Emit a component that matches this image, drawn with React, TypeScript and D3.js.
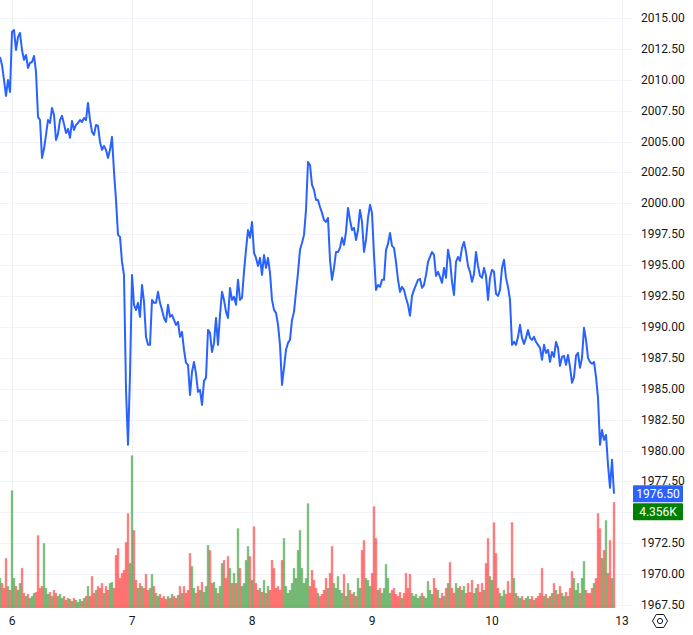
import React from "react";
import * as d3 from "d3";

// Close prices (one per bar)
const prices: number[] = [
  2011.85, 2011.2, 2009.99, 2008.69, 2009.99, 2009.02, 2013.87, 2014.03, 2012.41, 2013.47,
  2013.79, 2012.41, 2011.61, 2012.01, 2010.96, 2011.36, 2011.44, 2011.93, 2010.64, 2007.0,
  2006.75, 2003.68, 2004.41, 2005.54, 2006.75, 2006.51, 2007.72, 2007.16, 2005.13, 2005.62,
  2006.75, 2007.08, 2006.43, 2005.7, 2006.02, 2005.3, 2006.67, 2005.94, 2006.35, 2006.51,
  2006.75, 2006.59, 2006.91, 2006.75, 2008.13, 2006.75, 2005.78, 2005.54, 2006.35, 2006.27,
  2004.97, 2004.33, 2004.65, 2004.33, 2003.68, 2004.33, 2005.38, 2002.55, 2000.28, 1997.45,
  1997.29, 1995.26, 1994.21, 1984.91, 1980.46, 1986.12, 1994.21, 1991.79, 1991.38, 1991.95,
  1990.82, 1993.4, 1992.03, 1989.2, 1988.55, 1988.55, 1992.19, 1991.95, 1991.95, 1992.84,
  1991.95, 1991.38, 1990.73, 1990.41, 1991.79, 1990.82, 1990.98, 1990.57, 1990.17, 1990.41,
  1989.2, 1989.6, 1988.15, 1987.09, 1986.93, 1984.5, 1986.37, 1987.17, 1986.2, 1984.75,
  1984.91, 1983.7, 1985.64, 1985.88, 1989.76, 1989.52, 1987.98, 1988.71, 1990.73, 1988.55,
  1990.98, 1992.84, 1992.19, 1991.22, 1990.73, 1993.16, 1992.19, 1992.43, 1991.79, 1993.81,
  1992.19, 1992.35, 1994.46, 1996.24, 1997.85, 1997.21, 1998.5, 1995.99, 1995.59, 1994.94,
  1995.59, 1994.21, 1995.83, 1994.78, 1995.59, 1994.37, 1992.19, 1991.38, 1991.14, 1990.17,
  1988.55, 1985.31, 1986.69, 1988.15, 1988.71, 1988.95, 1990.57, 1991.22, 1992.84, 1994.37,
  1996.24, 1996.8, 1997.45, 1999.47, 2003.35, 2003.11, 2001.49, 2001.09, 2000.28, 2000.28,
  1999.71, 1999.23, 1998.66, 1998.5, 1998.82, 1995.43, 1993.81, 1994.78, 1996.07, 1996.07,
  1996.4, 1997.21, 1996.64, 1997.69, 1999.63, 1998.66, 1997.85, 1998.02, 1997.04, 1997.85,
  1999.47, 1998.5, 1996.07, 1997.04, 1998.82, 1999.88, 1999.23, 1995.83, 1993.0, 1993.4,
  1993.24, 1993.81, 1993.81, 1996.24, 1996.72, 1997.61, 1996.56, 1996.4, 1995.26, 1993.81,
  1992.84, 1993.24, 1993.0, 1992.35, 1991.79, 1990.9, 1992.51, 1993.0, 1993.4, 1993.81,
  1993.89, 1993.16, 1993.4, 1994.21, 1995.26, 1995.67, 1996.07, 1995.83, 1994.13, 1994.46,
  1994.05, 1993.57, 1994.78, 1993.97, 1996.24, 1995.43, 1993.65, 1992.59, 1995.26, 1995.67,
  1995.35, 1996.4, 1996.88, 1996.07, 1994.94, 1994.46, 1993.65, 1994.29, 1996.07, 1994.94,
  1994.13, 1993.97, 1994.78, 1994.13, 1992.19, 1993.97, 1994.62, 1994.46, 1992.68, 1992.51,
  1993.0, 1994.78, 1995.43, 1993.97, 1993.24, 1992.19, 1988.55, 1988.79, 1988.55, 1989.2,
  1990.17, 1989.12, 1988.63, 1989.12, 1989.76, 1989.12, 1988.95, 1989.2, 1988.79, 1988.55,
  1988.31, 1987.34, 1988.55, 1987.9, 1988.15, 1987.17, 1987.98, 1987.58, 1988.79, 1988.31,
  1986.85, 1987.58, 1987.66, 1986.93, 1987.74, 1986.77, 1985.48, 1985.96, 1987.66, 1987.9,
  1986.69, 1987.5, 1989.93, 1988.95, 1987.5, 1987.17, 1987.01, 1987.17, 1985.96, 1984.26,
  1980.46, 1981.67, 1980.86, 1981.27, 1978.84, 1976.98, 1979.25, 1976.5,
];

// Volume per bar
const volumes: number[] = [
  1230, 1025, 820, 2050, 900, 740, 4840, 1230, 900, 740,
  1025, 1640, 615, 490, 575, 410, 490, 615, 655, 2990,
  820, 900, 2665, 820, 575, 655, 490, 740, 615, 490,
  575, 410, 490, 330, 410, 370, 285, 410, 330, 245,
  370, 285, 410, 490, 900, 490, 1310, 615, 740, 900,
  820, 1025, 615, 900, 740, 1025, 1065, 820, 2175, 2460,
  1230, 1435, 1560, 2705, 3895, 1845, 6275, 3200, 1150, 820,
  1025, 900, 820, 1395, 740, 820, 1395, 900, 615, 490,
  575, 410, 490, 370, 490, 410, 575, 490, 410, 535,
  900, 615, 900, 615, 740, 2255, 1720, 820, 615, 900,
  740, 1065, 655, 900, 2585, 2380, 1025, 1065, 820, 615,
  900, 1845, 1970, 1230, 2130, 1640, 1025, 1435, 1025, 3280,
  1640, 900, 1025, 1970, 2540, 2130, 1150, 3360, 1025, 740,
  820, 655, 1150, 615, 900, 740, 1970, 1640, 820, 900,
  740, 1970, 2870, 900, 615, 740, 1025, 1640, 1230, 2380,
  3200, 1640, 1025, 1230, 4305, 900, 1560, 1150, 820, 615,
  490, 575, 740, 1230, 820, 1435, 2540, 1025, 820, 1310,
  740, 615, 1395, 490, 1025, 740, 575, 655, 490, 1230,
  820, 2380, 2790, 1230, 1150, 900, 1435, 4180, 2870, 740,
  820, 615, 820, 1805, 1230, 615, 740, 820, 575, 490,
  655, 410, 615, 1435, 820, 1395, 615, 490, 575, 410,
  490, 615, 490, 410, 1105, 740, 575, 1230, 820, 740,
  410, 615, 490, 820, 1025, 1885, 820, 615, 1025, 820,
  900, 740, 900, 615, 1025, 655, 1150, 615, 820, 985,
  655, 1025, 740, 1845, 2870, 1310, 1150, 3525, 2255, 820,
  615, 490, 740, 575, 1105, 615, 3525, 1230, 615, 490,
  410, 490, 330, 410, 490, 370, 490, 330, 410, 490,
  615, 1640, 490, 575, 410, 490, 615, 1025, 740, 575,
  900, 615, 490, 655, 490, 820, 1515, 1230, 740, 1025,
  615, 1230, 1925, 740, 615, 615, 820, 1025, 1230, 3895,
  3280, 2050, 2380, 3610, 1435, 2790, 1230, 4356,
];

// Day labels on the time axis and the bar index where each day starts
const dayLabels: string[] = ["6", "7", "8", "9", "10", "13"];
const dayIndex: number[] = [6, 66, 126, 186, 246, 311];

// Price axis ticks (grid lines) and the labels shown (1975.00 is hidden by the volume label)
const priceTicks: number[] = d3.range(1967.5, 2015.01, 2.5);
const hiddenPriceLabels: number[] = [1975];

const W = 693;
const H = 635;
const PLOT_R = 633;
const PLOT_B = 610;
const FONT = "Roboto, 'Liberation Sans', Arial, sans-serif";

export default function App() {
  const n = prices.length;
  const x = d3.scaleLinear().domain([0, n - 1]).range([0, (n - 1) * 2]);
  const y = d3.scaleLinear().domain([1967.5, 2015]).range([605, 18]);
  const yv = d3.scaleLinear().domain([0, 6500]).range([608, 450]);

  const line = d3
    .line<number>()
    .x((_, i) => x(i))
    .y((d) => y(d));

  const lastPrice = prices[n - 1];
  const lastVol = volumes[volumes.length - 1];
  const fmtVol = (v: number) => (v / 1000).toFixed(3) + "K";

  const barW = 2.4;

  // settings hexagon
  const cx = 660, cy = 621, r = 7.5;
  const hex = d3.range(6).map((k) => {
    const a = (Math.PI / 3) * k;
    return [cx + r * Math.cos(a), cy + r * Math.sin(a)] as [number, number];
  });
  const hexPath = d3.line().curve(d3.curveLinearClosed)(hex) || "";

  const labelTicks = priceTicks.filter((t) => !hiddenPriceLabels.some((h) => Math.abs(h - t) < 1e-6));

  return (
    <svg
      width={W}
      height={H}
      style={{ position: "absolute", left: 0, top: 0, display: "block", background: "#ffffff" }}
      fontFamily={FONT}
    >
      <defs>
        <clipPath id="plot">
          <rect x={0} y={0} width={PLOT_R} height={PLOT_B} />
        </clipPath>
      </defs>
      <rect x={0} y={0} width={W} height={H} fill="#ffffff" />

      {/* grid */}
      <g stroke="#f0f3fa" strokeWidth={1}>
        {priceTicks.map((t) => (
          <line key={"h" + t} x1={0} x2={PLOT_R} y1={Math.round(y(t)) + 0.5} y2={Math.round(y(t)) + 0.5} />
        ))}
        {dayIndex.map((di, k) => (
          <line key={"v" + k} x1={Math.round(x(di)) + 0.5} x2={Math.round(x(di)) + 0.5} y1={0} y2={PLOT_B} />
        ))}
      </g>

      <g clipPath="url(#plot)">
        {/* volume */}
        {volumes.map((v, i) => {
          const up = i === 0 ? true : prices[i] >= prices[i - 1];
          return (
            <rect
              key={"vb" + i}
              x={x(i) - barW / 2}
              y={yv(v)}
              width={barW}
              height={yv(0) - yv(v)}
              fill={up ? "rgba(0,128,0,0.5)" : "rgba(255,0,0,0.5)"}
            />
          );
        })}
        {/* price line */}
        <path d={line(prices) || ""} fill="none" stroke="#2962ff" strokeWidth={2} strokeLinejoin="round" />
      </g>

      {/* price axis labels */}
      <g fontSize={12} fill="#131722">
        {labelTicks.map((t) => (
          <text key={"pt" + t} x={641} y={y(t)} dominantBaseline="central">
            {t.toFixed(2)}
          </text>
        ))}
      </g>

      {/* last value labels */}
      <rect x={633} y={y(lastPrice) - 8.5} width={50} height={17} fill="#2962ff" rx={1} />
      <text x={658} y={y(lastPrice)} fontSize={12} fill="#ffffff" textAnchor="middle" dominantBaseline="central">
        {lastPrice.toFixed(2)}
      </text>
      <rect x={633} y={y(lastPrice) + 9.5} width={50} height={17} fill="#008000" rx={1} />
      <text x={658} y={y(lastPrice) + 18} fontSize={12} fill="#ffffff" textAnchor="middle" dominantBaseline="central">
        {fmtVol(lastVol)}
      </text>

      {/* time axis */}
      <g fontSize={12} fill="#131722">
        {dayLabels.map((lab, k) => (
          <text key={"d" + k} x={x(dayIndex[k])} y={621} textAnchor="middle" dominantBaseline="central">
            {lab}
          </text>
        ))}
      </g>

      {/* settings icon */}
      <path d={hexPath} fill="none" stroke="#131722" strokeWidth={1} />
      <circle cx={cx} cy={cy} r={2.6} fill="none" stroke="#131722" strokeWidth={1} />
    </svg>
  );
}
